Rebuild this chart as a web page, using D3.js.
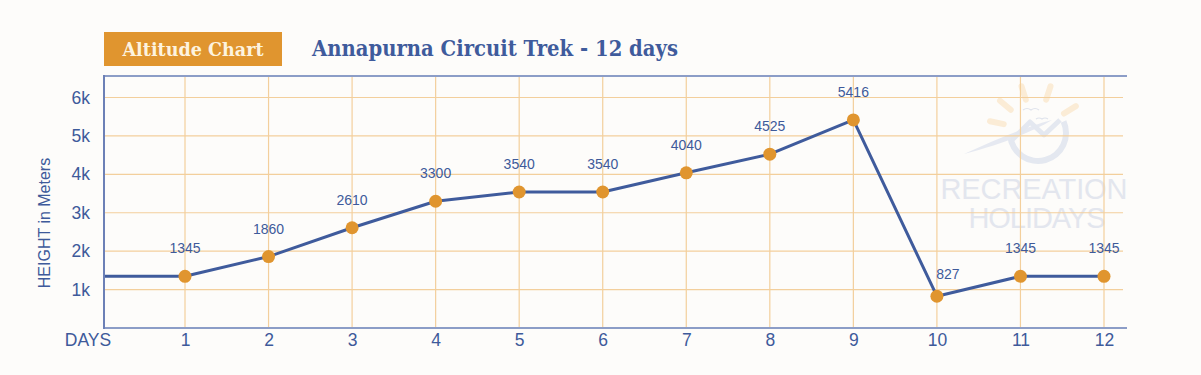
<!DOCTYPE html>
<html>
<head>
<meta charset="utf-8">
<script src="https://cdn.jsdelivr.net/npm/d3@7"></script>
<style>
  html, body { margin: 0; padding: 0; background: #fdfcfa; }
  svg { display: block; }
</style>
</head>
<body>
<div id="chart-container"></div>
<script>
{ // start block scope

  // data
  const days = [0, 1, 2, 3, 4, 5, 6, 7, 8, 9, 10, 11, 12];
  const heights = [1345, 1345, 1860, 2610, 3300, 3540, 3540, 4040, 4525, 5416, 827, 1345, 1345];
  const heightTicks = [1000, 2000, 3000, 4000, 5000, 6000];
  const badgeText = "Altitude Chart";
  const titleText = "Annapurna Circuit Trek - 12 days";

  const color = {
    blue: "#3f5b9c",
    text: "#3e5a9a",
    frame: "#8c9dc7",
    orange: "#e0952f",
    grid: "#f3cf9c",
    cream: "#fdf3df",
    bg: "#fdfcfa"
  };

  const totalWidth = 1201;
  const totalHeight = 375;
  const plot = { left: 104, right: 1127, top: 76, bottom: 328 };

  const svg = d3.select("#chart-container")
    .append("svg")
    .attr("width", totalWidth)
    .attr("height", totalHeight);

  svg.append("rect")
    .attr("width", totalWidth)
    .attr("height", totalHeight)
    .attr("fill", color.bg);

  // scales
  const xScale = d3.scaleLinear()
    .domain([1, 12])
    .range([185, 1104]);
  const yScale = d3.scaleLinear()
    .domain([0, 6560])
    .range([plot.bottom, plot.top]);

  // watermark
  const mark = svg.append("g").attr("id", "watermark");
  const sun = { x: 1036, y: 131 };
  const rays = [-168, -140, -108, -72, -32];
  rays.forEach(a => {
    const r = Math.PI * a / 180;
    mark.append("line")
      .attr("x1", sun.x + Math.cos(r) * 33)
      .attr("y1", sun.y + Math.sin(r) * 33)
      .attr("x2", sun.x + Math.cos(r) * 47)
      .attr("y2", sun.y + Math.sin(r) * 47)
      .attr("stroke", "#fbecd6")
      .attr("stroke-width", 6)
      .attr("stroke-linecap", "round");
  });
  mark.append("path")
    .attr("d", d3.arc()({ innerRadius: 25, outerRadius: 31, startAngle: 1.15, endAngle: 4.6 }))
    .attr("transform", `translate(${sun.x + 2},${sun.y + 2})`)
    .attr("fill", "#e4e8f0");
  mark.append("path")
    .attr("d", "M964,154 C995,140 1022,128 1052,120 C1034,131 1002,144 964,154 Z")
    .attr("fill", "#e6e9f1");
  mark.append("path")
    .attr("d", "M1012,140 L1030,122 L1044,135 L1060,120")
    .attr("fill", "none")
    .attr("stroke", "#e4e8f0")
    .attr("stroke-width", 5)
    .attr("stroke-linejoin", "round");
  mark.append("path")
    .attr("d", "M1023,110 q4,-3 8,0 q4,-3 8,0 M1036,119 q3,-2 6,0 q3,-2 6,0")
    .attr("fill", "none")
    .attr("stroke", "#dfe3ec")
    .attr("stroke-width", 1.2);
  mark.append("text")
    .attr("x", 1034).attr("y", 199)
    .attr("text-anchor", "middle")
    .attr("font-family", "Liberation Sans, Arial, sans-serif")
    .attr("font-size", 29)
    .attr("fill", "#e3e6ee")
    .attr("textLength", 187)
    .text("RECREATION");
  mark.append("text")
    .attr("x", 1037).attr("y", 228)
    .attr("text-anchor", "middle")
    .attr("font-family", "Liberation Sans, Arial, sans-serif")
    .attr("font-size", 29)
    .attr("fill", "#e3e6ee")
    .attr("textLength", 137)
    .text("HOLIDAYS");

  // grid
  const grid = svg.append("g").attr("id", "grid");
  grid.selectAll(".hgrid")
    .data(heightTicks)
    .enter()
    .append("line")
    .attr("class", "hgrid")
    .attr("x1", plot.left)
    .attr("x2", plot.right - 4)
    .attr("y1", d => yScale(d))
    .attr("y2", d => yScale(d))
    .attr("stroke", color.grid)
    .attr("stroke-width", 1.2);
  grid.selectAll(".vgrid")
    .data(days.slice(1))
    .enter()
    .append("line")
    .attr("class", "vgrid")
    .attr("x1", d => xScale(d))
    .attr("x2", d => xScale(d))
    .attr("y1", plot.top)
    .attr("y2", plot.bottom)
    .attr("stroke", color.grid)
    .attr("stroke-width", 1.2);

  // line
  const line = d3.line()
    .x((d, i) => Math.max(plot.left, xScale(days[i])))
    .y(d => yScale(d));
  svg.append("path")
    .datum(heights)
    .attr("d", line)
    .attr("fill", "none")
    .attr("stroke", color.blue)
    .attr("stroke-width", 3)
    .attr("stroke-linejoin", "round");

  // frame
  svg.append("line")
    .attr("x1", plot.left).attr("x2", plot.right)
    .attr("y1", plot.top).attr("y2", plot.top)
    .attr("stroke", color.frame).attr("stroke-width", 2);
  svg.append("line")
    .attr("x1", plot.left).attr("x2", plot.right)
    .attr("y1", plot.bottom).attr("y2", plot.bottom)
    .attr("stroke", color.frame).attr("stroke-width", 2);
  svg.append("line")
    .attr("x1", plot.left).attr("x2", plot.left)
    .attr("y1", plot.top - 1).attr("y2", plot.bottom + 1)
    .attr("stroke", "#6c80b6").attr("stroke-width", 2);

  // y axis
  const yAxis = d3.axisLeft(yScale)
    .tickValues(heightTicks)
    .tickSize(0)
    .tickPadding(14)
    .tickFormat(d => d / 1000 + "k");
  const yAxisGroup = svg.append("g")
    .attr("id", "y-axis")
    .attr("transform", `translate(${plot.left}, 0)`)
    .call(yAxis);
  yAxisGroup.select(".domain").remove();
  yAxisGroup.selectAll("text")
    .attr("font-family", "Liberation Sans, Arial, sans-serif")
    .attr("font-size", 17.5)
    .attr("fill", color.text);

  svg.append("text")
    .attr("transform", "translate(50, 223) rotate(-90)")
    .attr("text-anchor", "middle")
    .attr("font-family", "Liberation Sans, Arial, sans-serif")
    .attr("font-size", 16)
    .attr("fill", color.text)
    .text("HEIGHT in Meters");

  // x axis
  const xAxis = d3.axisBottom(xScale)
    .tickValues(days)
    .tickSize(0)
    .tickPadding(6)
    .tickFormat(d => d === 0 ? "DAYS" : d);
  const xAxisGroup = svg.append("g")
    .attr("id", "x-axis")
    .attr("transform", `translate(0, ${plot.bottom})`)
    .call(xAxis);
  xAxisGroup.select(".domain").remove();
  xAxisGroup.selectAll("text")
    .attr("font-family", "Liberation Sans, Arial, sans-serif")
    .attr("font-size", 17.5)
    .attr("fill", color.text);
  xAxisGroup.selectAll(".tick")
    .filter(d => d === 0)
    .select("text")
    .attr("dx", -14);

  // dots
  const points = days.map((d, i) => ({ day: d, h: heights[i] })).filter(p => p.day > 0);
  svg.selectAll(".dot")
    .data(points)
    .enter()
    .append("circle")
    .attr("class", "dot")
    .attr("cx", d => xScale(d.day))
    .attr("cy", d => yScale(d.h))
    .attr("r", 6.5)
    .attr("fill", color.orange);

  // value labels
  svg.selectAll(".value-label")
    .data(points)
    .enter()
    .append("text")
    .attr("class", "value-label")
    .attr("x", d => xScale(d.day) + (d.h < 1000 ? 11 : 0))
    .attr("y", d => yScale(d.h) - (d.h < 1000 ? 17 : 23))
    .attr("text-anchor", "middle")
    .attr("font-family", "Liberation Sans, Arial, sans-serif")
    .attr("font-size", 14)
    .attr("fill", color.text)
    .text(d => d.h);

  // header
  svg.append("rect")
    .attr("x", 104).attr("y", 32)
    .attr("width", 178).attr("height", 34)
    .attr("fill", color.orange);
  svg.append("text")
    .attr("x", 193).attr("y", 56)
    .attr("text-anchor", "middle")
    .attr("font-family", "DejaVu Serif, serif")
    .attr("font-weight", "bold")
    .attr("font-size", 18)
    .attr("fill", color.cream)
    .attr("textLength", 141)
    .attr("lengthAdjust", "spacingAndGlyphs")
    .text(badgeText);
  svg.append("text")
    .attr("x", 312).attr("y", 56)
    .attr("font-family", "DejaVu Serif, serif")
    .attr("font-weight", "bold")
    .attr("font-size", 22)
    .attr("fill", color.blue)
    .attr("textLength", 366)
    .attr("lengthAdjust", "spacingAndGlyphs")
    .text(titleText);

} // end block scope
</script>
</body>
</html>
